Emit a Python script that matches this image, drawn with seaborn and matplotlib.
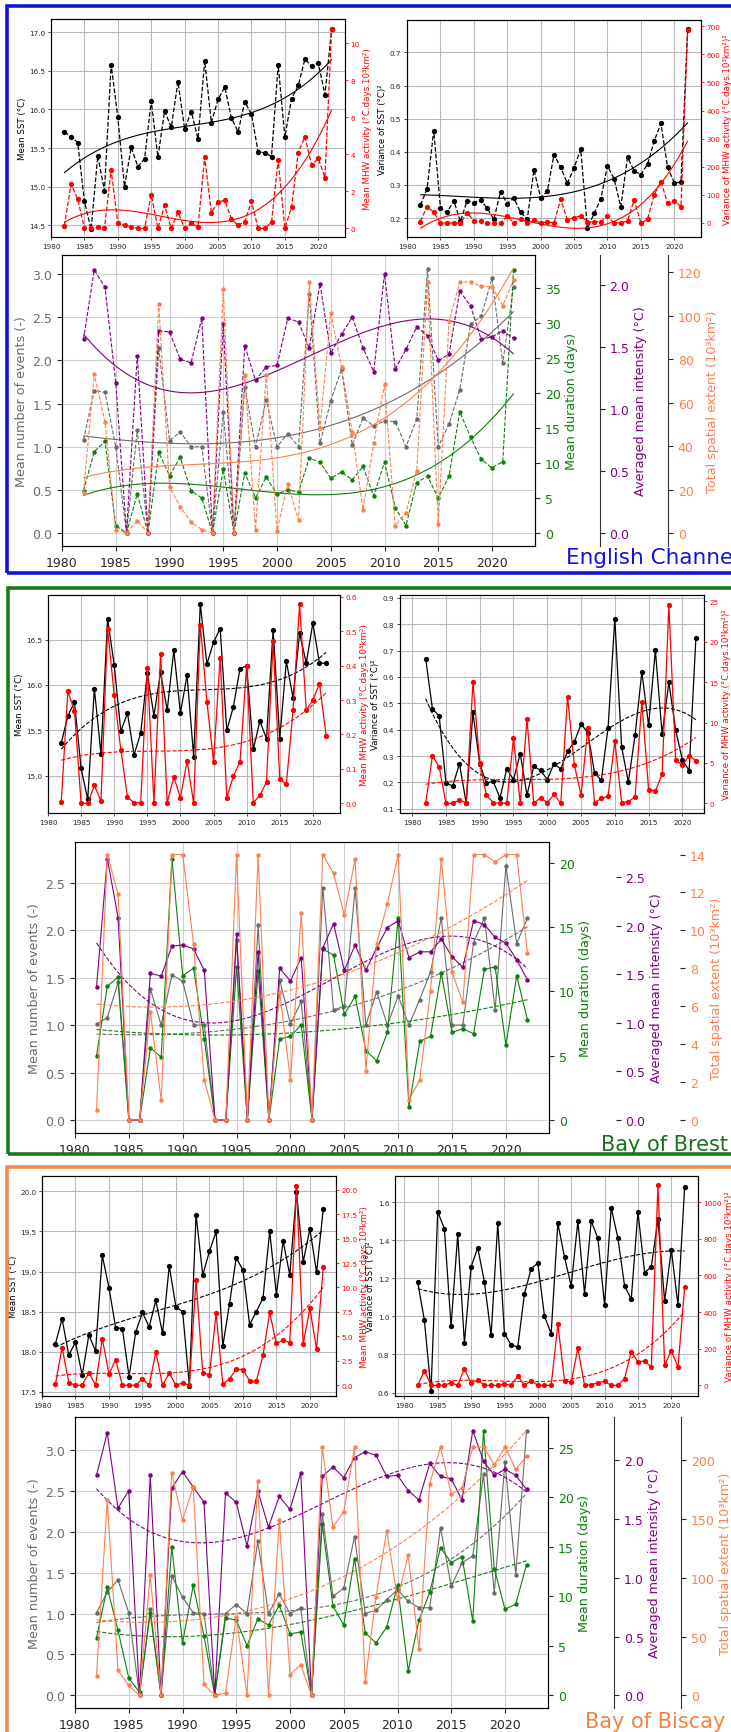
import numpy as np
import pandas as pd
import matplotlib
matplotlib.use("Agg")
import matplotlib.pyplot as plt
import seaborn as sns
from matplotlib.patches import Rectangle

years = list(range(1982, 2023))

# ---------------- English Channel ----------------
ec_sst_mean = [15.71, 15.65, 15.57, 14.81, 14.45, 15.40, 14.95, 16.58, 15.90, 15.00,
               15.51, 15.26, 15.36, 16.11, 15.38, 15.98, 15.77, 16.36, 15.75, 15.97,
               15.62, 16.63, 15.83, 16.13, 16.29, 15.89, 15.71, 16.10, 15.94, 15.45,
               15.44, 15.39, 16.58, 15.64, 16.14, 16.31, 16.65, 16.56, 16.60, 16.19, 17.04]
ec_mhw_mean = [0.14, 2.38, 1.59, 0, 0, 0.05, 0, 3.15, 0.27, 0.16,
               0.05, 0, 0, 1.82, 0, 1.24, 0, 0.86, 0, 0.27,
               0.07, 3.84, 0.85, 1.42, 1.51, 0.52, 0.16, 0.36, 1.46, 0,
               0, 0.34, 3.69, 0, 1.14, 4.09, 4.95, 3.42, 3.77, 2.74, 10.76]
ec_sst_var = [0.239, 0.288, 0.464, 0.231, 0.217, 0.253, 0.19, 0.253, 0.247, 0.255,
              0.230, 0.196, 0.280, 0.244, 0.261, 0.217, 0.197, 0.346, 0.262, 0.281,
              0.392, 0.353, 0.305, 0.352, 0.408, 0.169, 0.214, 0.257, 0.358, 0.318,
              0.234, 0.383, 0.343, 0.331, 0.363, 0.433, 0.486, 0.353, 0.307, 0.308, 0.77]
ec_mhw_var = [5, 58, 38, 0, 0, 0, 0, 37, 8, 6,
              0, 0, 0, 24, 0, 15, 0, 9, 0, 4,
              0, 84, 12, 19, 25, 4, 4, 5, 23, 0,
              0, 7, 82, 0, 13, 101, 147, 71, 79, 58, 687]
ec_events = [1.08, 1.65, 1.63, 1.00, 0, 1.19, 0, 2.14, 1.07, 1.17,
             1.0, 1.0, 0, 1.40, 0, 1.69, 1.0, 1.54, 1.0, 1.15,
             1.0, 2.77, 1.04, 1.53, 1.90, 1.02, 1.33, 1.24, 1.30, 1.29,
             1.0, 1.32, 3.06, 1.0, 1.26, 1.66, 2.42, 2.51, 2.95, 1.97, 2.85]
ec_duration = [6.05, 11.6, 13.1, 1.05, 0, 5.6, 0, 11.5, 8.2, 10.8,
               6.05, 5.0, 0, 9.1, 0, 8.6, 5.0, 8.0, 5.5, 6.2,
               5.8, 10.7, 10.1, 7.8, 8.7, 7.6, 9.5, 5.3, 10.1, 3.6,
               1.05, 7.2, 8.1, 5.0, 8.1, 17.3, 13.7, 10.5, 9.3, 10.2, 37.5]
ec_intensity = [1.56, 2.12, 1.98, 1.21, 0, 1.43, 0, 1.63, 1.62, 1.40,
                1.37, 1.73, 0, 1.68, 0, 1.51, 1.23, 1.34, 1.35, 1.73,
                1.70, 1.49, 2.01, 1.45, 1.60, 1.74, 1.49, 1.30, 2.09, 1.32,
                1.48, 1.66, 1.59, 1.39, 1.44, 1.95, 1.83, 1.56, 1.58, 1.63, 1.57]
ec_extent = [18.4, 73.2, 51.0, 1.5, 0, 5.7, 0, 105.4, 21.2, 12.0,
             5.1, 1.5, 0, 112.4, 0, 72.8, 1.5, 72.8, 1.1, 22.6,
             6.1, 115.4, 48.3, 101.3, 76.6, 46.4, 10.7, 41.4, 68.5, 3.4,
             9.4, 28.7, 115.4, 4.0, 97.5, 115.4, 115.7, 113.6, 113.4, 104.7, 116.5]

# ---------------- Bay of Brest ----------------
bb_sst_mean = [15.36, 15.66, 15.81, 15.08, 14.74, 15.96, 15.24, 16.73, 16.22, 15.49,
               15.69, 15.23, 15.47, 16.13, 15.66, 16.14, 15.72, 16.38, 15.69, 16.11,
               15.21, 16.89, 16.23, 16.47, 16.62, 15.50, 15.76, 16.18, 16.21, 15.29,
               15.60, 15.41, 16.61, 15.41, 16.26, 15.86, 16.57, 16.24, 16.68, 16.24, 16.24]
bb_mhw_mean = [0.004, 0.326, 0.268, 0, 0, 0.052, 0.007, 0.507, 0.314, 0.155,
               0.018, 0.002, 0.002, 0.394, 0.002, 0.435, 0.002, 0.076, 0.016, 0.123,
               0, 0.518, 0.295, 0.121, 0.423, 0.017, 0.079, 0.121, 0.399, 0.002,
               0.023, 0.062, 0.471, 0.070, 0.055, 0.270, 0.578, 0.271, 0.299, 0.348, 0.197]
bb_sst_var = [0.670, 0.479, 0.452, 0.198, 0.186, 0.271, 0.122, 0.466, 0.27, 0.198,
              0.204, 0.141, 0.251, 0.211, 0.309, 0.152, 0.261, 0.246, 0.211, 0.271,
              0.251, 0.318, 0.353, 0.421, 0.389, 0.236, 0.208, 0.408, 0.821, 0.336,
              0.201, 0.380, 0.619, 0.416, 0.701, 0.384, 0.58, 0.399, 0.286, 0.245, 0.748]
bb_mhw_var = [0, 5.9, 4.5, 0, 0, 0.4, 0, 15.0, 5.0, 1.0,
              0.1, 0, 0, 8.1, 0, 10.4, 0, 0.7, 0.1, 1.1,
              0, 13.2, 4.8, 1.0, 9.3, 0.1, 0.6, 0.9, 7.7, 0.1,
              0.2, 0.8, 12.6, 1.7, 1.5, 3.6, 24.6, 5.4, 4.7, 5.9, 5.3]
bb_events = [1.01, 1.08, 1.45, 0, 0, 1.38, 1.0, 1.53, 1.46, 1.0,
             1.0, 0, 0, 1.9, 0, 2.05, 0, 1.48, 1.01, 1.25,
             0, 2.45, 1.16, 1.2, 2.44, 1.0, 1.35, 1.0, 1.31, 1.0,
             1.27, 1.56, 2.13, 1.0, 1.0, 1.87, 2.13, 1.16, 2.68, 1.86, 2.13]
bb_duration = [5.0, 10.4, 11.1, 0, 0, 5.6, 4.9, 20.3, 11.2, 11.8,
               6.3, 0, 0, 11.9, 0, 11.6, 0, 6.3, 6.5, 7.4,
               0, 13.3, 12.8, 8.2, 9.6, 5.4, 4.6, 6.8, 15.7, 1.0,
               6.1, 6.5, 11.4, 6.8, 7.1, 6.7, 11.7, 11.9, 5.8, 11.2, 7.8]
bb_intensity = [1.37, 2.69, 2.08, 0, 0, 1.51, 1.48, 1.79, 1.80, 1.76,
                1.54, 0, 0, 1.91, 0, 1.73, 0, 1.56, 1.43, 1.67,
                0, 1.77, 2.02, 1.54, 1.80, 1.54, 1.77, 1.98, 2.05, 1.67,
                1.73, 1.73, 1.86, 1.68, 1.57, 2.05, 2.01, 1.88, 1.82, 1.65, 1.44]
bb_extent = [0.54, 14.0, 11.9, 0, 0, 5.7, 1.05, 14.0, 14.0, 9.3,
             2.1, 0, 0, 14.0, 0, 14.0, 0, 6.75, 2.1, 10.9,
             0, 14.0, 13.0, 10.8, 13.75, 2.6, 9.3, 11.4, 14.0, 1.07,
             2.1, 6.8, 13.75, 7.8, 6.2, 14.0, 14.0, 13.6, 14.0, 14.0, 8.8]

# ---------------- Bay of Biscay ----------------
bi_sst_mean = [18.10, 18.41, 17.96, 18.12, 17.71, 18.21, 18.01, 19.20, 18.80, 18.30,
               18.29, 17.69, 18.25, 18.49, 18.31, 18.64, 18.23, 19.07, 18.56, 18.50,
               17.58, 19.71, 18.96, 19.25, 19.50, 18.07, 18.60, 19.17, 19.02, 18.34,
               18.50, 18.67, 19.50, 18.71, 19.38, 18.96, 19.99, 19.12, 19.53, 18.99, 19.78]
bi_mhw_mean = [0.1, 3.86, 0.27, 0, 0, 1.3, 0, 4.78, 1.13, 2.63,
               0, 0, 0, 0.68, 0, 3.41, 0, 1.23, 0, 0.24,
               0, 10.78, 1.3, 1.06, 7.34, 0.1, 0.68, 1.64, 1.6, 0.44,
               0.41, 3.07, 7.44, 4.27, 4.61, 4.37, 20.34, 4.23, 7.85, 3.69, 12.05]
bi_sst_var = [1.18, 0.98, 0.61, 1.55, 1.46, 0.95, 1.43, 0.86, 1.26, 1.36,
              1.18, 0.90, 1.49, 0.91, 0.85, 0.84, 1.12, 1.25, 1.28, 1.00,
              0.91, 1.49, 1.31, 1.16, 1.50, 1.12, 1.50, 1.41, 1.06, 1.57,
              1.41, 1.16, 1.09, 1.55, 1.23, 1.26, 1.51, 1.08, 1.35, 1.06, 1.68]
bi_mhw_var = [0, 80, 0, 0, 0, 15, 0, 91, 11, 29,
              0, 0, 0, 7, 0, 51, 0, 26, 0, 0,
              0, 334, 26, 18, 203, 0, 4, 15, 22, 0,
              0, 37, 184, 128, 133, 100, 1092, 110, 188, 100, 535]
bi_events = [1.01, 1.26, 1.41, 1.01, 0, 1.05, 0, 1.46, 1.2, 1.01,
             1.0, 0, 1.0, 1.11, 1.0, 1.88, 1.0, 1.24, 1.0, 1.07,
             0, 2.22, 1.21, 1.31, 1.94, 1.0, 1.04, 1.17, 1.29, 1.15,
             1.07, 1.07, 2.05, 1.33, 1.62, 1.70, 2.70, 1.25, 2.85, 1.47, 3.23]
bi_duration = [5.8, 10.9, 6.55, 1.75, 0.3, 8.3, 0, 15.0, 5.3, 11.1,
               6.0, 0, 7.8, 7.6, 5.0, 7.7, 7.1, 9.1, 6.2, 6.4,
               0, 17.3, 9.0, 7.1, 13.8, 6.3, 5.3, 6.9, 11.1, 2.5,
               7.6, 10.4, 14.9, 13.4, 14.0, 7.5, 26.7, 12.8, 8.7, 9.2, 13.2]
bi_intensity = [1.87, 2.23, 1.59, 1.74, 0, 1.87, 0, 1.76, 1.90, 1.77,
                1.64, 0, 1.72, 1.64, 1.27, 1.74, 1.43, 1.69, 1.58, 1.89,
                0, 1.86, 1.94, 1.85, 2.02, 2.07, 2.04, 1.86, 1.87, 1.74,
                1.66, 1.97, 1.86, 1.84, 1.66, 2.25, 1.99, 1.87, 1.92, 1.87, 1.75]
bi_extent = [16.1, 166, 21.2, 8.5, 0, 102, 0, 189, 149, 177,
             9.3, 0, 2, 67, 0, 182, 0, 149, 17.5, 26,
             0, 211, 143, 156, 211, 11.3, 84, 140, 82, 119,
             39, 180, 211, 171, 176, 211, 211, 196, 211, 192, 203]

# tick labels and texts
x_ticks = [1980, 1985, 1990, 1995, 2000, 2005, 2010, 2015, 2020]
region_names = ["English Channel", "Bay of Brest", "Bay of Biscay"]
lab_sst_mean = "Mean SST (°C)"
lab_mhw_mean = "Mean MHW activity (°C.days.10³km²)"
lab_sst_var = "Variance of SST (°C)²"
lab_mhw_var = "Variance of MHW activity (°C.days.10³km²)²"
lab_events = "Mean number of events (-)"
lab_duration = "Mean duration (days)"
lab_intensity = "Averaged mean intensity (°C)"
lab_extent = "Total spatial extent (10³km²)"

# ---------------- styling ----------------
sns.set_theme(style="ticks")
plt.rcParams['font.family'] = ['DejaVu Sans']
plt.rcParams['axes.edgecolor'] = 'black'
plt.rcParams['axes.linewidth'] = 0.8

GRAY = '#6a6a6a'
GREEN = '#0b800b'
PURPLE = '#800080'
ORANGE = '#ff7f4f'

W, H = 731, 1733
fig = plt.figure(figsize=(W / 100, H / 100), dpi=100)
fig.patch.set_facecolor('white')


def rect(x0, y0, x1, y1):
    return [x0 / W, 1 - y1 / H, (x1 - x0) / W, (y1 - y0) / H]


def draw_series(ax, y, color, ls, lw, ms, tls, tlw):
    sns.lineplot(x=years, y=y, ax=ax, color=color, linestyle=ls, linewidth=lw,
                 marker='o', markersize=ms, markeredgewidth=0, legend=False)
    sns.regplot(x=np.array(years, float), y=np.array(y, float), order=3,
                scatter=False, ci=None, truncate=True, ax=ax,
                line_kws=dict(color=color, linestyle=tls, linewidth=tlw))


def top_chart(box, xlim, yb, yr, ylb, ylr, tb, tr, labb, labr, ls, tls):
    ax = fig.add_axes(rect(*box))
    ax2 = ax.twinx()
    draw_series(ax, yb, 'black', ls, 0.9, 3.8, tls, 0.8)
    draw_series(ax2, yr, 'red', ls, 0.9, 3.8, tls, 0.8)
    ax.set_xlim(*xlim)
    ax.set_ylim(*ylb)
    ax2.set_ylim(*ylr)
    ax.set_xticks(x_ticks)
    ax.set_yticks(tb)
    ax2.set_yticks(tr)
    ax.grid(True, color='#b8b8b8', linewidth=0.8)
    ax2.grid(False)
    ax.set_xlabel('')
    ax2.set_xlabel('')
    ax.set_ylabel(labb, fontsize=6.2, color='black', labelpad=2)
    ax2.set_ylabel(labr, fontsize=6.3, color='red', labelpad=2)
    ax.tick_params(labelsize=5.2, length=2.5, width=0.6, pad=1.5)
    ax2.tick_params(axis='y', labelsize=5.2, colors='red', length=2.5, width=0.6, pad=1.5)
    return ax


def bottom_chart(box, series, lims, ticks, ls, tls, pos, show_extra):
    ax = fig.add_axes(rect(*box))
    axg = ax.twinx()
    axp = ax.twinx()
    axo = ax.twinx()
    axp.spines['right'].set_position(('axes', pos[0]))
    axo.spines['right'].set_position(('axes', pos[1]))
    for a in (axp, axo):
        for s in ('top', 'bottom', 'left'):
            a.spines[s].set_visible(False)
        a.spines['right'].set_visible(show_extra)
        a.spines['right'].set_color('#333333')
    axes = [ax, axg, axp, axo]
    colors = [GRAY, GREEN, PURPLE, ORANGE]
    labels = [lab_events, lab_duration, lab_intensity, lab_extent]
    for a, y, c, lim, t, lab in zip(axes, series, colors, lims, ticks, labels):
        draw_series(a, y, c, ls, 0.8, 3.2, tls, 0.8)
        a.set_ylim(*lim)
        a.set_yticks(t)
        a.set_ylabel(lab, color=c, fontsize=9.2, labelpad=3)
        a.set_xlabel('')
        a.tick_params(axis='y', labelcolor=c, labelsize=9, length=3.5, width=0.8)
        if a is not ax:
            a.grid(False)
    ax.set_xlim(1980, 2024)
    ax.set_xticks(x_ticks)
    ax.tick_params(axis='x', labelsize=9, length=3.5, width=0.8)
    ax.grid(True, color='#cfcfcf', linewidth=0.8)
    return ax


# ---------------- Panel 1: English Channel ----------------
top_chart((51, 20, 345, 238), (1980, 2024), ec_sst_mean, ec_mhw_mean,
          (14.35, 17.17), (-0.47, 11.3), [14.5, 15.0, 15.5, 16.0, 16.5, 17.0],
          [0, 2, 4, 6, 8, 10], lab_sst_mean, lab_mhw_mean, '--', '-')
top_chart((407, 21, 701, 238), (1980, 2024), ec_sst_var, ec_mhw_var,
          (0.143, 0.798), (-50, 722), [0.2, 0.3, 0.4, 0.5, 0.6, 0.7],
          [0, 100, 200, 300, 400, 500, 600, 700], lab_sst_var, lab_mhw_var, '--', '-')
bottom_chart((62, 256, 535, 547), [ec_events, ec_duration, ec_intensity, ec_extent],
             [(-0.15, 3.22), (-1.86, 39.7), (-0.105, 2.24), (-6.0, 128)],
             [[0, 0.5, 1.0, 1.5, 2.0, 2.5, 3.0], [0, 5, 10, 15, 20, 25, 30, 35],
              [0, 0.5, 1.0, 1.5, 2.0], [0, 20, 40, 60, 80, 100, 120]],
             '--', '-', (1.137, 1.281), True)

# ---------------- Panel 2: Bay of Brest ----------------
top_chart((48, 596, 340, 814), (1980, 2024.1), bb_sst_mean, bb_mhw_mean,
          (14.59, 16.99), (-0.028, 0.605), [15.0, 15.5, 16.0, 16.5],
          [0.0, 0.1, 0.2, 0.3, 0.4, 0.5, 0.6], lab_sst_mean, lab_mhw_mean, '-', '--')
top_chart((400, 596, 704, 814), (1978.2, 2023.2), bb_sst_var, bb_mhw_var,
          (0.084, 0.911), (-1.2, 25.8), [0.1, 0.2, 0.3, 0.4, 0.5, 0.6, 0.7, 0.8, 0.9],
          [0, 5, 10, 15, 20, 25], lab_sst_var, lab_mhw_var, '-', '--')
bottom_chart((75, 843, 549, 1134), [bb_events, bb_duration, bb_intensity, bb_extent],
             [(-0.137, 2.93), (-1.01, 21.6), (-0.134, 2.86), (-0.69, 14.66)],
             [[0, 0.5, 1.0, 1.5, 2.0, 2.5], [0, 5, 10, 15, 20],
              [0, 0.5, 1.0, 1.5, 2.0, 2.5], [0, 2, 4, 6, 8, 10, 12, 14]],
             '-', '--', (1.141, 1.277), False)

# ---------------- Panel 3: Bay of Biscay ----------------
top_chart((42, 1177, 336, 1397), (1980, 2023.9), bi_sst_mean, bi_mhw_mean,
          (17.45, 20.19), (-1.1, 21.4), [17.5, 18.0, 18.5, 19.0, 19.5, 20.0],
          [0, 2.5, 5.0, 7.5, 10.0, 12.5, 15.0, 17.5, 20.0], lab_sst_mean, lab_mhw_mean, '-', '--')
top_chart((395, 1177, 698, 1397), (1978.6, 2024), bi_sst_var, bi_mhw_var,
          (0.582, 1.737), (-58, 1142), [0.6, 0.8, 1.0, 1.2, 1.4, 1.6],
          [0, 200, 400, 600, 800, 1000], lab_sst_var, lab_mhw_var, '-', '--')
bottom_chart((75, 1418, 548, 1709), [bi_events, bi_duration, bi_intensity, bi_extent],
             [(-0.154, 3.40), (-1.28, 28.1), (-0.107, 2.365), (-10.7, 236.5)],
             [[0, 0.5, 1.0, 1.5, 2.0, 2.5, 3.0], [0, 5, 10, 15, 20, 25],
              [0, 0.5, 1.0, 1.5, 2.0], [0, 50, 100, 150, 200]],
             '-', '--', (1.14, 1.281), True)

# ---------------- frames and region names ----------------
frames = [((6.5, 6.5), 760, 567, '#1212dd'),
          ((7.5, 589.5), 760, 565.5, '#1b781b'),
          ((7.0, 1168.3), 760, 600, '#f4884e')]
for (x0, y0), w, h, col in frames:
    fig.add_artist(Rectangle((x0 / W, 1 - (y0 + h) / H), w / W, h / H,
                             transform=fig.transFigure, fill=False,
                             edgecolor=col, linewidth=2.6, clip_on=False))

fig.text(566 / W, 1 - 564 / H, region_names[0], color='#1212dd', fontsize=15.5, va='baseline')
fig.text(601 / W, 1 - 1151 / H, region_names[1], color='#1b701b', fontsize=15, va='baseline')
fig.text(585 / W, 1 - 1728 / H, region_names[2], color='#f08445', fontsize=15, va='baseline')

fig.savefig("out.png", dpi=100, facecolor='white')
